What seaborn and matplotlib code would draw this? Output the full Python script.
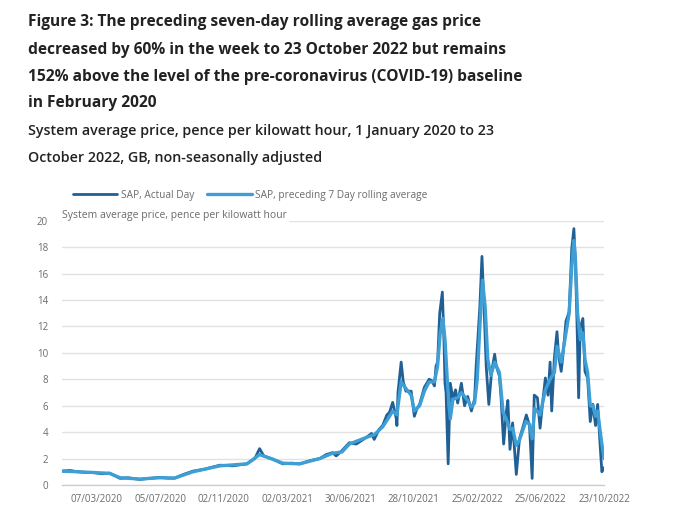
import matplotlib
matplotlib.use("Agg")
import matplotlib.pyplot as plt
import numpy as np
import pandas as pd
import seaborn as sns

# ---------------- data (days since 1 Jan 2020, pence per kWh) ----------------
start_date = "2020-01-01"

actual_day = [0, 15, 30, 45, 58, 75, 90, 110, 125, 147, 165, 185, 200, 213, 230, 248,
              270, 299, 323, 350, 365, 374, 382, 399, 418, 435, 450, 470, 488, 500, 512,
              519, 530, 544, 557, 576, 586, 591, 600, 607, 615, 620, 626, 633, 634, 636,
              642, 646, 651, 661, 667, 672, 677, 686, 695, 700, 705, 708, 711, 715, 720,
              723, 725, 727, 731, 735, 740, 745, 749, 756, 762, 768, 775, 781, 784, 791,
              795, 800, 803, 808, 813, 819, 822, 828, 831, 836, 841, 844, 848, 853, 860,
              866, 872, 879, 885, 890, 894, 900, 905, 910, 915, 920, 924, 927, 932, 937,
              940, 945, 949, 954, 960, 965, 969, 972, 975, 978, 981, 986, 990, 995, 1000,
              1005, 1010, 1014, 1019, 1022, 1025]
actual_val = [1.05, 1.1, 1.0, 0.95, 0.95, 0.85, 0.9, 0.5, 0.55, 0.42, 0.5, 0.58, 0.52, 0.52,
              0.8, 1.05, 1.2, 1.5, 1.45, 1.6, 2.0, 2.75, 2.2, 1.95, 1.6, 1.65, 1.6, 1.85,
              2.0, 2.3, 2.45, 2.2, 2.6, 3.2, 3.1, 3.6, 3.9, 3.45, 4.2, 4.5, 5.3, 5.5, 6.25,
              5.0, 4.5, 7.0, 9.3, 7.8, 7.1, 7.1, 5.2, 5.8, 6.1, 7.4, 8.0, 7.9, 7.5, 9.0,
              9.3, 13.0, 14.6, 11.0, 7.7, 7.0, 1.6, 7.7, 6.5, 7.2, 6.2, 7.7, 6.0, 6.7, 5.6,
              6.5, 9.0, 13.5, 17.3, 12.3, 9.0, 6.1, 8.5, 9.9, 9.0, 8.25, 6.7, 3.1, 5.5,
              6.4, 2.7, 4.7, 0.8, 3.5, 4.3, 5.3, 4.5, 0.5, 6.8, 6.6, 4.3, 6.3, 8.1, 6.8,
              9.3, 5.6, 9.6, 11.6, 9.8, 8.6, 10.1, 12.4, 13.1, 17.9, 19.4, 16.7, 12.1, 6.6,
              11.9, 12.6, 8.6, 8.1, 4.8, 6.1, 4.5, 6.1, 2.8, 1.0, 1.3]

rolling_day = [0, 30, 58, 90, 110, 147, 185, 213, 248, 299, 350, 374, 399, 418, 450, 488,
               512, 530, 544, 576, 591, 607, 620, 626, 634, 642, 651, 661, 667, 677, 686,
               695, 705, 711, 716, 721, 725, 730, 735, 740, 749, 756, 768, 775, 781, 786,
               791, 796, 801, 806, 812, 819, 828, 835, 841, 848, 853, 860, 866, 878, 885,
               890, 895, 905, 915, 924, 932, 937, 945, 954, 960, 965, 969, 972, 976, 981,
               986, 990, 995, 1000, 1005, 1010, 1014, 1019, 1023, 1026]
rolling_val = [1.05, 1.0, 0.95, 0.88, 0.55, 0.45, 0.55, 0.52, 1.0, 1.45, 1.6, 2.3, 1.95,
               1.65, 1.6, 2.0, 2.4, 2.5, 3.1, 3.6, 3.8, 4.4, 5.2, 5.6, 5.3, 7.8, 7.3, 6.8,
               5.6, 6.0, 7.1, 7.8, 7.8, 9.0, 11.5, 12.6, 11.0, 7.5, 5.0, 6.5, 6.6, 7.0,
               6.4, 5.9, 6.2, 8.0, 12.0, 15.5, 13.5, 9.5, 8.3, 9.3, 8.5, 5.5, 5.0, 4.2,
               4.3, 3.0, 3.4, 4.8, 4.6, 3.5, 5.8, 5.3, 7.2, 8.0, 8.5, 10.5, 9.3, 11.5, 13.0,
               16.5, 18.5, 17.0, 13.0, 11.0, 11.5, 9.5, 8.5, 6.0, 6.0, 5.2, 5.6, 4.0, 2.8,
               2.0]

tick_labels = ["07/03/2020", "05/07/2020", "02/11/2020", "02/03/2021", "30/06/2021",
               "28/10/2021", "25/02/2022", "25/06/2022", "23/10/2022"]
y_ticks = [0, 2, 4, 6, 8, 10, 12, 14, 16, 18, 20]

series_names = ["SAP, Actual Day", "SAP, preceding 7 Day rolling average"]
colors = ["#206095", "#3d9fd6"]

# ---------------- build frames ----------------
t0 = pd.Timestamp(start_date)
df_a = pd.DataFrame({"date": t0 + pd.to_timedelta(actual_day, unit="D"),
                     "value": actual_val, "series": series_names[0]})
df_r = pd.DataFrame({"date": t0 + pd.to_timedelta(rolling_day, unit="D"),
                     "value": rolling_val, "series": series_names[1]})

sns.set_theme(style="white")
plt.rcParams["font.family"] = ["Open Sans", "DejaVu Sans"]

fig = plt.figure(figsize=(6.8, 5.24), dpi=100)
ax = fig.add_axes([62 / 680, 1 - 485 / 524, (604 - 62) / 680, (485 - 220.7) / 524])

sns.lineplot(data=df_a, x="date", y="value", ax=ax, color=colors[0], linewidth=2.0,
             label=series_names[0], zorder=3)
sns.lineplot(data=df_r, x="date", y="value", ax=ax, color=colors[1], linewidth=2.4,
             label=series_names[1], zorder=4)

ax.set_xlim(pd.Timestamp("2020-01-01"), pd.Timestamp("2022-10-23"))
ax.set_ylim(0, 20)
ax.set_yticks(y_ticks)
ax.set_yticklabels([str(v) for v in y_ticks])
tick_dates = [pd.to_datetime(s, format="%d/%m/%Y") for s in tick_labels]
ax.set_xticks(tick_dates)
ax.set_xticklabels(tick_labels)

ax.grid(axis="y", color="#e2e2e2", linewidth=1.0, zorder=0)
ax.grid(axis="x", visible=False)
for s in ["top", "right", "left"]:
    ax.spines[s].set_visible(False)
ax.spines["bottom"].set_color("#c9d0da")
ax.spines["bottom"].set_linewidth(1.0)
ax.tick_params(axis="x", colors="#c9d0da", length=5, width=1.0, direction="out",
               labelcolor="#6b6b6b", labelsize=7, pad=1.5)
ax.tick_params(axis="y", length=0, labelcolor="#6b6b6b", labelsize=7, pad=10)
ax.set_xlabel("")
ax.set_ylabel("")

ax.text(0.0, 1.0, "System average price, pence per kilowatt hour", transform=ax.transAxes,
        fontsize=7.5, color="#6b6b6b", ha="left", va="bottom",
        bbox=dict(facecolor="white", edgecolor="none", pad=1.5), zorder=5)

ax.legend(loc="lower left", bbox_to_anchor=(0.012, 1.06), ncol=2, frameon=False,
          fontsize=7.3, labelcolor="#6b6b6b", handlelength=4.4, columnspacing=1.3,
          handletextpad=0.35, borderaxespad=0)

# titles
title_lines = ["Figure 3: The preceding seven-day rolling average gas price",
               "decreased by 60% in the week to 23 October 2022 but remains",
               "152% above the level of the pre-coronavirus (COVID-19) baseline",
               "in February 2020"]
title_y = [22, 50, 77, 103]
for line, yy in zip(title_lines, title_y):
    fig.text(28 / 680, 1 - yy / 524, line, fontsize=11.2, fontweight="bold",
             color="#222222", ha="left", va="center")
sub_lines = ["System average price, pence per kilowatt hour, 1 January 2020 to 23",
             "October 2022, GB, non-seasonally adjusted"]
sub_y = [131, 158]
for line, yy in zip(sub_lines, sub_y):
    fig.text(28 / 680, 1 - yy / 524, line, fontsize=10.3, fontweight="semibold",
             color="#222222", ha="left", va="center")

fig.savefig("out.png", dpi=100, facecolor="white")
